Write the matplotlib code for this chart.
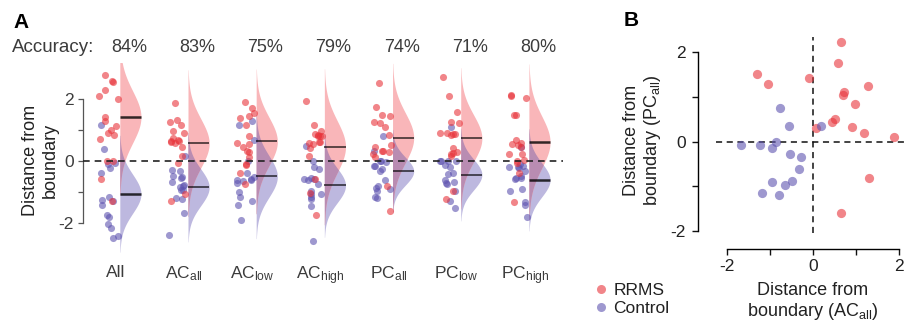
import numpy as np
import matplotlib
matplotlib.use('Agg')
import matplotlib.pyplot as plt
from matplotlib.lines import Line2D

plt.rcParams['font.family'] = ['Liberation Sans', 'DejaVu Sans']
plt.rcParams['mathtext.fontset'] = 'custom'
plt.rcParams['mathtext.rm'] = 'Liberation Sans'
plt.rcParams['mathtext.it'] = 'Liberation Sans:italic'
plt.rcParams['mathtext.bf'] = 'Liberation Sans:bold'

# ---- panel A data: distance from boundary per feature set ----
groups = ['All', 'AC$_{\\mathrm{all}}$', 'AC$_{\\mathrm{low}}$', 'AC$_{\\mathrm{high}}$',
          'PC$_{\\mathrm{all}}$', 'PC$_{\\mathrm{low}}$', 'PC$_{\\mathrm{high}}$']
accuracy = [84, 83, 75, 79, 74, 71, 80]

rrms = [
    [2.77, 2.58, 2.54, 2.28, 2.07, 2.00, 1.40, 1.27, 1.12, 0.99, 0.88, 0.84, 0.69, 0.00, 0.00, -0.59, -1.29],
    [1.87, 1.31, 1.25, 1.16, 0.97, 0.89, 0.72, 0.67, 0.58, 0.63, 0.63, 0.60, 0.43, 0.15, -0.08, -1.07, -1.29],
    [1.90, 1.70, 1.53, 1.43, 1.38, 1.14, 0.79, 0.58, 0.54, 0.43, 0.32, 0.29, 0.11, -0.11, -0.14, -0.39, -0.77],
    [1.93, 1.16, 0.97, 0.86, 0.83, 0.81, 0.79, 0.78, 0.61, 0.59, 0.56, 0.54, 0.41, 0.16, -0.59, -1.05, -1.75],
    [2.50, 1.74, 1.48, 1.43, 1.26, 1.21, 1.09, 0.83, 0.49, 0.43, 0.32, 0.27, 0.21, 0.32, 0.11, -0.83, -1.61],
    [2.69, 2.10, 1.57, 1.24, 1.21, 0.89, 0.88, 0.86, 0.85, 0.83, 0.41, 0.27, 0.25, 0.21, 0.16, -0.97, -1.25],
    [2.13, 2.08, 2.02, 1.47, 1.47, 0.67, 0.56, 0.54, 0.49, 0.43, 0.21, 0.21, 0.02, 0.00, -0.08, -0.41, -1.35],
]
control = [
    [1.16, 0.39, -0.07, -0.24, -0.40, -0.11, -1.16, -1.27, -1.31, -1.42, -1.77, -1.83, -2.04, -2.16, -2.49, -2.44],
    [0.16, -0.29, -0.34, -0.51, -0.53, -0.56, -0.68, -0.81, -0.86, -0.94, -0.96, -1.20, -1.24, -1.69, -2.41, -0.78],
    [1.27, 1.16, 0.65, 0.00, -0.41, -0.52, -0.60, -0.62, -0.64, -0.66, -0.71, -1.01, -1.16, -1.29, -1.42, -1.93],
    [0.47, 0.00, -0.21, -0.28, -0.56, -0.58, -0.60, -0.62, -0.77, -0.98, -1.09, -1.09, -1.16, -1.24, -1.46, -2.58],
    [0.78, 0.32, -0.02, -0.02, -0.05, -0.16, -0.17, -0.28, -0.34, -0.61, -0.83, -0.89, -0.91, -0.99, -1.16, -1.22],
    [1.09, 0.00, -0.02, -0.02, -0.02, -0.15, -0.39, -0.43, -0.64, -0.69, -0.73, -0.75, -0.97, -1.31, -1.53, -0.20],
    [0.45, -0.11, -0.17, -0.19, -0.21, -0.24, -0.32, -0.51, -0.56, -0.56, -0.60, -0.91, -0.99, -1.33, -1.42, -1.81],
]
rrms_mean = [1.41, 0.56, 0.62, 0.45, 0.74, 0.72, 0.60]
control_mean = [-1.07, -0.86, -0.51, -0.80, -0.34, -0.45, -0.62]
rrms_sd = [0.84, 0.79, 0.78, 0.84, 0.80, 0.76, 0.84]
control_sd = [0.63, 0.59, 0.67, 0.56, 0.45, 0.50, 0.55]

# ---- panel B data: AC_all vs PC_all ----
b_rrms_x = [0.64, 0.58, -1.30, -1.05, -0.11, 1.26, 0.71, 0.68, 0.98, 0.50, 0.43, 0.90, 0.06, 1.18, 1.88, 1.30, 0.64]
b_rrms_y = [2.23, 1.75, 1.51, 1.28, 1.43, 1.24, 1.11, 1.05, 0.84, 0.51, 0.45, 0.33, 0.30, 0.19, 0.11, -0.81, -1.59]
b_ctrl_x = [-0.77, -0.56, 0.17, -0.86, -0.95, -1.23, -1.69, -2.40, -0.54, -0.29, -0.33, -0.50, -0.66, -0.97, -1.19, -0.80]
b_ctrl_y = [0.76, 0.34, 0.34, -0.01, -0.13, -0.07, -0.07, -0.16, -0.28, -0.34, -0.60, -0.88, -0.97, -0.90, -1.15, -1.20]

RED = '#e8343b'
BLUE = '#5e53b0'
RED_FILL = '#f9b6b9'
BLUE_FILL = '#bdb8df'
MIX_FILL = '#b98cb2'
TXT = '#3c3c3c'
mean_lw = [1.8, 1.1, 1.1, 1.1, 1.1, 1.1, 1.8]

fig = plt.figure(figsize=(9.06, 3.26), dpi=100)
W, H = 906, 326

def px_rect(l, t, r, b):
    return [l / W, 1 - b / H, (r - l) / W, (b - t) / H]

# ---------------- panel A ----------------
ax = fig.add_axes(px_rect(83, 63, 563, 253.6))
rng = np.random.default_rng(3)
vw = 0.31
yy = np.linspace(-3.2, 3.4, 800)
for i in range(len(groups)):
    halves = []
    for m, s in [(control_mean[i], control_sd[i]), (rrms_mean[i], rrms_sd[i])]:
        w = vw * np.exp(-0.5 * ((yy - m) / s) ** 2)
        w[np.abs(yy - m) > 3 * s] = 0
        halves.append(w)
    wb, wr = halves
    ax.fill_betweenx(yy, i, i + wb, where=wb > 0, color=BLUE_FILL, lw=0, zorder=1)
    ax.fill_betweenx(yy, i, i + wr, where=wr > 0, color=RED_FILL, lw=0, zorder=1)
    wm = np.minimum(wb, wr)
    ax.fill_betweenx(yy, i, i + wm, where=wm > 0, color=MIX_FILL, lw=0, zorder=1.5)
    for vals, m, pc in [(control[i], control_mean[i], BLUE), (rrms[i], rrms_mean[i], RED)]:
        ax.plot([i, i + vw], [m, m], color='black', alpha=0.8, lw=mean_lw[i], zorder=3,
                solid_capstyle='butt')
        jx = i - 0.16 + rng.uniform(-0.14, 0.14, len(vals))
        ax.scatter(jx, vals, s=26, color=pc, alpha=0.6, lw=0, zorder=2)

ax.axhline(0, color='#222222', lw=1.2, ls=(0, (4, 3)), zorder=4)
ax.set_xlim(-0.54, 6.5)
ax.set_ylim(-3.0, 3.15)
ax.set_yticks([-2, -1, 0, 1, 2])
ax.set_yticklabels(['-2', '', '0', '', '2'])
ax.set_xticks(np.arange(len(groups)) - 0.06)
ax.set_xticklabels(groups)
ax.tick_params(axis='x', length=0, pad=8, labelsize=12.5, labelcolor=TXT)
ax.tick_params(axis='y', length=3.6, width=0.9, pad=3, labelsize=12.5, labelcolor=TXT, color='#555555')
for sp in ['top', 'right', 'bottom']:
    ax.spines[sp].set_visible(False)
ax.spines['left'].set_bounds(-2, 2)
ax.spines['left'].set_color('#555555')
ax.spines['left'].set_linewidth(0.9)

for i, acc in enumerate(accuracy):
    fig.text((120 + 68.2 * i + 9) / W, 1 - 48 / H, f'{acc}%', ha='center', va='center',
             fontsize=13, color=TXT)
fig.text(12 / W, 1 - 48 / H, 'Accuracy:', ha='left', va='center', fontsize=13.5, color=TXT)
fig.text(40 / W, 1 - 160 / H, 'Distance from\nboundary', rotation=90, ha='center', va='center',
         ma='center', fontsize=13, color='#222222')
fig.text(13 / W, 1 - 22 / H, 'A', fontsize=15, fontweight='bold', ha='left', va='center')

# ---------------- panel B ----------------
bx = fig.add_axes(px_rect(715.7, 37, 905.8, 233))
bx.scatter(b_rrms_x, b_rrms_y, s=44, color=RED, alpha=0.6, lw=0, zorder=3)
bx.scatter(b_ctrl_x, b_ctrl_y, s=44, color=BLUE, alpha=0.6, lw=0, zorder=3)
bx.axhline(0, color='#111111', lw=1.1, ls=(0, (4, 3)), zorder=1)
bx.axvline(0, color='#111111', lw=1.1, ls=(0, (4, 3)), zorder=1)
bx.set_xlim(-2.27, 2.15)
bx.set_ylim(-2.04, 2.34)
bx.set_xticks([-2, -1, 0, 1, 2])
bx.set_xticklabels(['-2', '', '0', '', '2'])
bx.set_yticks([-2, -1, 0, 1, 2])
bx.set_yticklabels(['-2', '', '0', '', '2'])
bx.tick_params(length=4.5, width=1.0, labelsize=12.5, color='#111111', labelcolor='#222222')
bx.tick_params(axis='y', pad=4)
bx.tick_params(axis='x', pad=3)
for sp in ['top', 'right']:
    bx.spines[sp].set_visible(False)
bx.spines['left'].set_position(('outward', 13))
bx.spines['bottom'].set_position(('outward', 11.5))
bx.spines['left'].set_bounds(-2, 2)
bx.spines['bottom'].set_bounds(-2, 2)
for sp in ['left', 'bottom']:
    bx.spines[sp].set_linewidth(1.0)

fig.text(813 / W, 1 - 302 / H, 'Distance from\nboundary (AC$_{\\mathrm{all}}$)', ha='center', va='center',
         ma='center', fontsize=13, color='#222222', linespacing=1.15)
fig.text(643 / W, 1 - 140 / H, 'Distance from\nboundary (PC$_{\\mathrm{all}}$)', rotation=90,
         ha='center', va='center', ma='center', fontsize=13, color='#222222', linespacing=1.15)
fig.text(624 / W, 1 - 20 / H, 'B', fontsize=15, fontweight='bold', ha='left', va='center')

handles = [Line2D([], [], ls='', marker='o', ms=6.5, color=RED, alpha=0.6, mew=0),
           Line2D([], [], ls='', marker='o', ms=6.5, color=BLUE, alpha=0.6, mew=0)]
fig.legend(handles, ['RRMS', 'Control'], loc='upper left', bbox_to_anchor=(582 / W, 1 - 274 / H),
           frameon=False, fontsize=12.5, handletextpad=0.1, labelspacing=0.2, borderpad=0,
           handlelength=1.2, labelcolor='#222222')

fig.savefig('out.png', dpi=100)
